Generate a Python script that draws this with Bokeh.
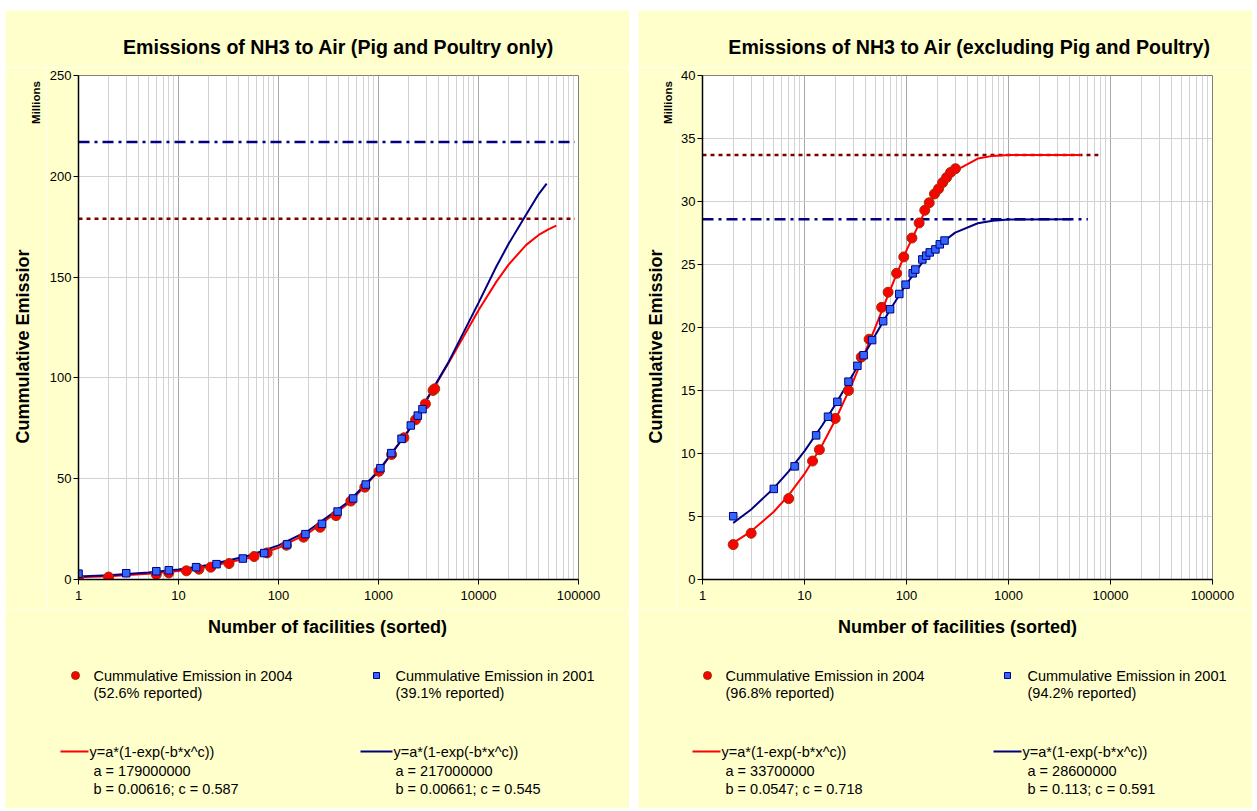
import math
from bokeh.plotting import figure
from bokeh.layouts import row, column
from bokeh.models import Range1d, FixedTicker, PrintfTickFormatter
from bokeh.core.properties import value
from bokeh.embed import file_html
from bokeh.resources import INLINE

FONT = "Liberation Sans"
BG = "#FFFFCC"
RED = "#FF0000"
RED_EDGE = "#993300"
NAVY = "#000080"
BLUE = "#3366FF"
DARKRED = "#800000"

# ---------------- data ----------------
x_ticks = [1, 10, 100, 1000, 10000, 100000]
x_tick_labels = ["1", "10", "100", "1000", "10000", "100000"]
x_minor = [m * 10 ** d for d in range(5) for m in range(2, 10)]

# Left panel: Pig and Poultry only (values in millions)
left_title = "Emissions of NH3 to Air (Pig and Poultry only)"
left_y_ticks = [0, 50, 100, 150, 200, 250]
pp_x_2004 = [1, 2, 6, 8, 12, 16, 21, 32, 57, 77, 120, 178, 261, 376, 529, 730,
             1012, 1352, 1795, 2345, 2945, 3514, 3650]
pp_y_2004 = [0.8, 1.2, 2.5, 3.3, 4.3, 5.1, 6.1, 7.9, 11.4, 13.2, 17.0, 21.0, 25.9,
             31.7, 38.9, 45.8, 53.7, 62.0, 70.3, 79.2, 87.1, 93.8, 94.6]
pp_x_2001 = [1, 3, 6, 8, 15, 24, 44, 72, 122, 186, 272, 390, 558, 746, 1045,
             1343, 1700, 2105, 2473, 2754]
pp_y_2001 = [2.9, 3.1, 4.1, 4.6, 6.1, 7.6, 10.4, 13.1, 17.4, 22.5, 27.6, 33.7,
             40.2, 47.1, 55.2, 62.7, 69.8, 76.4, 81.3, 84.5]
pp_fit_x_2004 = [1, 2, 5, 10, 20, 50, 100, 200, 500, 1000, 2000, 5000, 10000,
                 15000, 20000, 30000, 40000, 50000, 60000]
pp_fit_y_2004 = [1.10, 1.65, 2.81, 4.21, 6.29, 10.63, 15.73, 23.09, 37.72, 53.52,
                 74.04, 107.3, 133.6, 147.5, 156.2, 166.0, 170.9, 173.7, 175.5]
pp_fit_x_2001 = [1, 2, 5, 10, 20, 50, 100, 200, 500, 1000, 2000, 5000, 10000,
                 15000, 20000, 30000, 40000, 48000]
pp_fit_y_2001 = [1.43, 2.08, 3.42, 4.97, 7.22, 11.76, 16.95, 24.28, 38.54, 53.84,
                 73.87, 107.7, 137.2, 155.0, 166.5, 181.0, 191.2, 196.4]
pp_asym_x = [1, 92000]
pp_asym_2004 = 179
pp_asym_2001 = 217
pp_leg_2004 = ["Cummulative Emission in 2004", "(52.6% reported)"]
pp_leg_2001 = ["Cummulative Emission in 2001", "(39.1% reported)"]
pp_fit_2004 = ["y=a*(1-exp(-b*x^c))", "a = 179000000", "b = 0.00616; c = 0.587"]
pp_fit_2001 = ["y=a*(1-exp(-b*x^c))", "a = 217000000", "b = 0.00661; c = 0.545"]

# Right panel: excluding Pig and Poultry (values in millions)
right_title = "Emissions of NH3 to Air (excluding Pig and Poultry)"
right_y_ticks = [0, 5, 10, 15, 20, 25, 30, 35, 40]
ex_x_2004 = [2, 3, 7, 12, 14, 20, 27, 36, 43, 57, 66, 80, 94, 113, 133, 151, 167,
             188, 206, 226, 247, 270, 302]
ex_y_2004 = [2.77, 3.67, 6.42, 9.40, 10.30, 12.78, 15.0, 17.65, 19.07, 21.6, 22.8,
             24.3, 25.6, 27.1, 28.3, 29.3, 29.9, 30.6, 31.0, 31.5, 31.9, 32.3, 32.6]
ex_x_2001 = [2, 5, 8, 13, 17, 21, 27, 33, 38, 46, 59, 69, 85, 98, 115, 122, 143,
             156, 169, 192, 212, 236]
ex_y_2001 = [5.02, 7.19, 8.98, 11.44, 12.92, 14.1, 15.7, 16.96, 17.8, 19.0, 20.5,
             21.45, 22.66, 23.4, 24.3, 24.6, 25.4, 25.7, 25.96, 26.2, 26.6, 26.9]
ex_fit_x_2004 = [2, 3, 5, 7, 10, 15, 20, 30, 50, 70, 100, 150, 200, 300, 500, 700,
                 1000, 5150]
ex_fit_y_2004 = [2.90, 3.82, 5.38, 6.69, 8.38, 10.71, 12.64, 15.73, 20.10, 23.09,
                 26.12, 29.13, 30.81, 32.44, 33.41, 33.62, 33.69, 33.70]
ex_fit_x_2001 = [2, 3, 5, 7, 10, 15, 20, 30, 50, 70, 100, 150, 200, 300, 500, 700,
                 1000, 4120]
ex_fit_y_2001 = [4.48, 5.56, 7.25, 8.58, 10.19, 12.26, 13.87, 16.30, 19.46, 21.49,
                 23.47, 25.38, 26.45, 27.53, 28.27, 28.47, 28.57, 28.60]
ex_asym_x_2004 = [1, 7600]
ex_asym_x_2001 = [1, 6000]
ex_asym_2004 = 33.7
ex_asym_2001 = 28.6
ex_leg_2004 = ["Cummulative Emission in 2004", "(96.8% reported)"]
ex_leg_2001 = ["Cummulative Emission in 2001", "(94.2% reported)"]
ex_fit_2004 = ["y=a*(1-exp(-b*x^c))", "a = 33700000", "b = 0.0547; c = 0.718"]
ex_fit_2001 = ["y=a*(1-exp(-b*x^c))", "a = 28600000", "b = 0.113; c = 0.591"]

y_label = "Cummulative Emissior"
x_label = "Number of facilities (sorted)"
unit_label = "Millions"

# ---------------- layout geometry (page pixels) ----------------
TOP, FRAME_T, FRAME_B, MID_B, BOTTOM = 10, 75, 579, 609, 808
PB_TOP = 8                       # plot border above frame
MID_T = FRAME_T - PB_TOP         # 67
PB_BOT = MID_B - FRAME_B         # 30


def strip(x0, x1, y0, y1, margin_left=0, border_top=0, border_bottom=0,
          ry0=None, ry1=None):
    """A plain yellow figure whose data coordinates equal page pixels."""
    h = (y1 - y0) if ry0 is None else (ry1 - ry0 + border_top + border_bottom)
    p = figure(width=x1 - x0, height=h,
               x_range=Range1d(x0, x1),
               y_range=Range1d(y1 if ry0 is None else ry1, y0 if ry0 is None else ry0),
               output_backend="svg", toolbar_location=None,
               min_border_left=0, min_border_right=0,
               min_border_top=border_top, min_border_bottom=border_bottom,
               x_axis_type=None, y_axis_type=None,
               background_fill_color=BG, border_fill_color=BG,
               outline_line_color=None, margin=(0, 0, 0, margin_left))
    p.xgrid.visible = False
    p.ygrid.visible = False
    return p


def txt(p, x, y, text, size, bold=False, align="left", angle=0.0):
    p.text(x=x, y=y, text=text, text_font=value(FONT), text_font_size=value(size),
           text_font_style="bold" if bold else "normal", text_align=align,
           text_baseline="middle", angle=angle, text_color="black")


def make_plot(x0, x1, frame_l, frame_r, ymax, y_ticks, margin_left=0):
    p = figure(width=x1 - x0, height=MID_B - MID_T, x_axis_type="log",
               x_range=Range1d(1, 100000), y_range=Range1d(0, ymax),
               output_backend="svg", toolbar_location=None,
               min_border_left=frame_l - x0, min_border_right=x1 - frame_r,
               min_border_top=PB_TOP, min_border_bottom=PB_BOT,
               background_fill_color="white", border_fill_color=BG,
               outline_line_color="#808080", outline_line_width=1,
               margin=(0, 0, 0, margin_left))
    xt = FixedTicker(ticks=x_ticks, minor_ticks=x_minor)
    yt = FixedTicker(ticks=y_ticks)
    p.xaxis.ticker = xt
    p.yaxis.ticker = yt
    p.xgrid.ticker = xt
    p.ygrid.ticker = yt
    p.xaxis.formatter = PrintfTickFormatter(format="%d")
    p.xaxis.major_label_overrides = dict(zip(x_ticks, x_tick_labels))
    p.xgrid.grid_line_color = "#a8a8a8"
    p.xgrid.minor_grid_line_color = "#d2d2d2"
    p.ygrid.grid_line_color = "#d2d2d2"
    for ax in (p.xaxis, p.yaxis):
        ax.axis_line_color = "black"
        ax.axis_line_width = 1.5
        ax.major_tick_line_color = "black"
        ax.major_tick_out = 5
        ax.major_tick_in = 0
        ax.minor_tick_line_color = None
        ax.major_label_text_font = FONT
        ax.major_label_text_font_size = "13px"
        ax.major_label_text_color = "black"
    p.yaxis.major_label_standoff = 2
    p.xaxis.major_label_standoff = 6
    return p


def draw_series(p, fx4, fy4, fx1, fy1, x4, y4, x1, y1, ax4, a4, ax1, a1):
    p.line(ax1, [a1] * len(ax1), color=NAVY, line_width=2.5, line_dash="11 5 3 5")
    p.line(ax4, [a4] * len(ax4), color=DARKRED, line_width=2.5, line_dash="4 4")
    p.line(fx4, fy4, color=RED, line_width=2)
    p.line(fx1, fy1, color=NAVY, line_width=2)
    p.scatter(x4, y4, marker="circle", size=10, fill_color=RED, line_color=RED_EDGE, line_width=1)
    p.scatter(x1, y1, marker="square", size=7.5, fill_color=BLUE, line_color=NAVY, line_width=1)


def legend(p, xs, leg_a, leg_b, fit_a, fit_b):
    (dA, tA, dB, tB, la0, la1, eA, pA, lb0, lb1, eB, pB) = xs
    r1, r2 = 675, 692
    f1, f2, f3 = 751, 770, 788
    p.scatter([dA], [r1], marker="circle", size=8, fill_color=RED, line_color=RED_EDGE)
    p.scatter([dB], [r1], marker="square", size=6, fill_color=BLUE, line_color=NAVY)
    txt(p, [tA, tA], [r1, r2], leg_a, "14.5px")
    txt(p, [tB, tB], [r1, r2], leg_b, "14.5px")
    p.line([la0, la1], [f1, f1], color=RED, line_width=2)
    p.line([lb0, lb1], [f1, f1], color=NAVY, line_width=2)
    txt(p, [eA, pA, pA], [f1, f2, f3], fit_a, "14.5px")
    txt(p, [eB, pB, pB], [f1, f2, f3], fit_b, "14.5px")


# ---------- left panel ----------
L0, L1, LS = 5, 629, 46
t_l = strip(L0, L1, TOP, MID_T)
txt(t_l, [338], [46], [left_title], "19.6px", bold=True, align="center")

y_l = strip(L0, LS, MID_T, MID_B, border_top=PB_TOP, border_bottom=PB_BOT,
            ry0=FRAME_T, ry1=FRAME_B)
txt(y_l, [22], [346], [y_label], "18px", bold=True, align="center", angle=math.pi / 2)
txt(y_l, [35], [102], [unit_label], "11.5px", bold=True, align="center", angle=math.pi / 2)

p_l = make_plot(LS, L1, 76, 578, 250, left_y_ticks)
draw_series(p_l, pp_fit_x_2004, pp_fit_y_2004, pp_fit_x_2001, pp_fit_y_2001,
            pp_x_2004, pp_y_2004, pp_x_2001, pp_y_2001,
            pp_asym_x, pp_asym_2004, pp_asym_x, pp_asym_2001)

b_l = strip(L0, L1, MID_B, BOTTOM)
txt(b_l, [327], [626], [x_label], "18px", bold=True, align="center")
legend(b_l, (75, 93, 376, 395, 60, 88, 89, 93, 360, 392, 393, 395),
       pp_leg_2004, pp_leg_2001, pp_fit_2004, pp_fit_2001)

# ---------- right panel ----------
R0, R1, RS = 638, 1252, 676
GAP = R0 - L1
t_r = strip(R0, R1, TOP, MID_T, margin_left=GAP)
txt(t_r, [969], [46], [right_title], "19.6px", bold=True, align="center")

y_r = strip(R0, RS, MID_T, MID_B, margin_left=GAP, border_top=PB_TOP,
            border_bottom=PB_BOT, ry0=FRAME_T, ry1=FRAME_B)
txt(y_r, [655], [346], [y_label], "18px", bold=True, align="center", angle=math.pi / 2)
txt(y_r, [667], [102], [unit_label], "11.5px", bold=True, align="center", angle=math.pi / 2)

p_r = make_plot(RS, R1, 702, 1212, 40, right_y_ticks)
draw_series(p_r, ex_fit_x_2004, ex_fit_y_2004, ex_fit_x_2001, ex_fit_y_2001,
            ex_x_2004, ex_y_2004, ex_x_2001, ex_y_2001,
            ex_asym_x_2004, ex_asym_2004, ex_asym_x_2001, ex_asym_2001)

b_r = strip(R0, R1, MID_B, BOTTOM, margin_left=GAP)
txt(b_r, [957], [626], [x_label], "18px", bold=True, align="center")
legend(b_r, (707, 725, 1007, 1027, 692, 720, 721, 725, 993, 1021, 1022, 1027),
       ex_leg_2004, ex_leg_2001, ex_fit_2004, ex_fit_2001)

layout = column(row(t_l, t_r, spacing=0),
                row(y_l, p_l, y_r, p_r, spacing=0),
                row(b_l, b_r, spacing=0),
                spacing=0, margin=(TOP, 0, 0, L0))

open("out.html", "w").write(file_html(layout, INLINE))
